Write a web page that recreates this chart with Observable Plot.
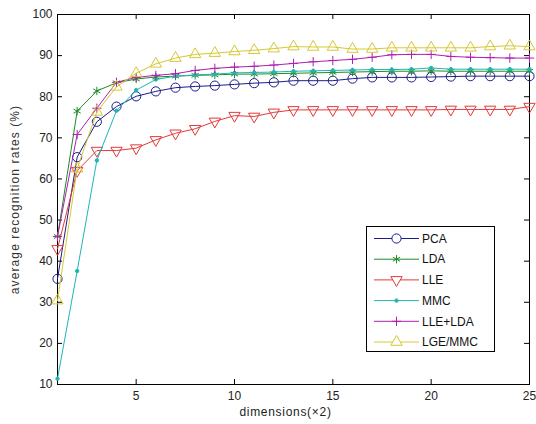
<!DOCTYPE html>
<html>
<head>
<meta charset="utf-8">
<script src="https://cdn.jsdelivr.net/npm/d3@7"></script>
<script src="https://cdn.jsdelivr.net/npm/@observablehq/plot@0.6"></script>
<style>
  html, body { margin: 0; padding: 0; background: #fff; }
  #wrap { position: relative; width: 536px; height: 424px; font-family: "Liberation Sans", Arial, sans-serif; }
  #legend { position: absolute; left: 366px; top: 226px; width: 129px; height: 126px; border: 1px solid #000; background: #fff; box-sizing: border-box; }
  #legend svg { display: block; }
</style>
</head>
<body>
<div id="wrap"></div>
<script>
// ---- data ----
const dims = [1, 2, 3, 4, 5, 6, 7, 8, 9, 10, 11, 12, 13, 14, 15, 16, 17, 18, 19, 20, 21, 22, 23, 24, 25];
const seriesNames = ["PCA", "LDA", "LLE", "MMC", "LLE+LDA", "LGE/MMC"];
const pca    = [35.7, 65.3, 73.9, 77.6, 80.1, 81.3, 82.2, 82.5, 82.7, 83.0, 83.3, 83.5, 83.9, 83.9, 83.9, 84.4, 84.7, 84.7, 84.7, 84.8, 84.9, 85.0, 85.0, 85.0, 85.0];
const lda    = [46.0, 76.5, 81.4, 83.4, 84.3, 84.8, 85.0, 85.2, 85.3, 85.5, 85.5, 85.6, 85.7, 85.8, 85.9, 86.0, 86.1, 86.2, 86.2, 86.3, 86.2, 86.2, 86.2, 86.2, 86.2];
const lle    = [43.0, 62.0, 66.9, 66.9, 67.5, 69.5, 71.1, 72.2, 74.0, 75.4, 75.2, 76.2, 76.8, 76.8, 76.8, 76.8, 76.8, 76.8, 76.8, 76.8, 76.9, 76.9, 76.9, 76.9, 77.6];
const mmc    = [11.4, 37.6, 64.5, 76.6, 81.6, 84.2, 85.0, 85.3, 85.5, 85.8, 85.9, 86.0, 86.2, 86.3, 86.4, 86.5, 86.6, 86.6, 86.7, 87.0, 86.7, 86.7, 86.7, 86.7, 86.7];
const lleLda = [46.0, 70.8, 77.2, 83.5, 84.7, 85.2, 85.6, 86.4, 86.9, 87.2, 87.4, 87.7, 88.1, 88.5, 88.8, 89.1, 89.6, 90.2, 90.3, 90.3, 89.8, 89.6, 89.5, 89.4, 89.4];
const lgeMmc = [30.4, 62.5, 76.3, 82.4, 85.7, 88.0, 89.4, 90.3, 90.6, 91.0, 91.3, 91.7, 92.2, 92.1, 92.1, 91.6, 91.6, 91.9, 91.9, 91.9, 91.9, 91.9, 92.2, 92.4, 92.2];
const xTicks = [5, 10, 15, 20, 25];
const yTicks = [10, 20, 30, 40, 50, 60, 70, 80, 90, 100];
const xLabel = "dimensions(×2)";
const yLabel = "average recognition rates (%)";

// ---- styles ----
const colors = ["#1c1c8a", "#1f8a2a", "#e2393a", "#1fb5b5", "#b020b0", "#d6c832"];
const triDown = {
  draw(ctx, size) {
    const y = Math.sqrt(size / (Math.sqrt(3) * 3));
    ctx.moveTo(0, 2 * y);
    ctx.lineTo(Math.sqrt(3) * y, -y);
    ctx.lineTo(-Math.sqrt(3) * y, -y);
    ctx.closePath();
  }
};
const markerDefs = [
  {symbol: "circle", r: 4.6, fill: "none"},
  {symbol: "asterisk", r: 3.9, fill: "none"},
  {symbol: triDown, r: 4.2, fill: "none"},
  {symbol: "circle", r: 1.7, fill: "fill"},
  {symbol: "plus", r: 3.1, fill: "none"},
  {symbol: "triangle", r: 4.2, fill: "none"}
];
const allSeries = [pca, lda, lle, mmc, lleLda, lgeMmc];

const rows = [];
allSeries.forEach((vals, si) => vals.forEach((v, i) => rows.push({series: seriesNames[si], dim: dims[i], value: v})));

const W = 536, H = 424, mL = 57, mR = 7, mT = 14, mB = 40;
const fw = W - mL - mR, fh = H - mT - mB, tl = 5;
const xDomain = [dims[0], dims[dims.length - 1]];
const yDomain = [yTicks[0], yTicks[yTicks.length - 1]];

const marks = [
  Plot.frame({stroke: "#000", strokeWidth: 1}),
  Plot.tickX(xTicks, {x: d => d, insetTop: fh - tl, stroke: "#000"}),
  Plot.tickX(xTicks, {x: d => d, insetBottom: fh - tl, stroke: "#000"}),
  Plot.tickY(yTicks, {y: d => d, insetRight: fw - tl, stroke: "#000"}),
  Plot.tickY(yTicks, {y: d => d, insetLeft: fw - tl, stroke: "#000"}),
  Plot.axisX(xTicks, {tickSize: 0, tickPadding: 7, label: null, fontSize: 12, fill: "#222"}),
  Plot.axisY(yTicks, {tickSize: 0, tickPadding: 5, label: null, fontSize: 12, fill: "#222"}),
  Plot.text([xLabel], {text: d => d, frameAnchor: "bottom", textAnchor: "middle", dy: 31, dx: -8, fontSize: 12, fill: "#222"}),
  Plot.text([yLabel], {
    text: d => d,
    x: () => xDomain[0],
    y: () => (yDomain[0] + yDomain[1]) / 2,
    textAnchor: "middle", rotate: -90, fontSize: 12, fill: "#333"
  })
];
seriesNames.forEach((name, si) => {
  const data = rows.filter(r => r.series === name);
  const m = markerDefs[si];
  marks.push(Plot.line(data, {x: "dim", y: "value", stroke: colors[si], strokeWidth: 1}));
  marks.push(Plot.dot(data, {
    x: "dim", y: "value", symbol: () => m.symbol, r: m.r,
    stroke: colors[si], strokeWidth: 1,
    fill: m.fill === "fill" ? colors[si] : "none"
  }));
});

const chart = Plot.plot({
  width: W, height: H,
  marginLeft: mL, marginRight: mR, marginTop: mT, marginBottom: mB,
  style: {background: "#fff", fontFamily: "'Liberation Sans', Arial, sans-serif"},
  x: {domain: xDomain, axis: null},
  y: {domain: yDomain, axis: null},
  symbol: {type: "identity"},
  marks
});
const wrap = document.getElementById("wrap");
wrap.appendChild(chart);
// place the rotated y title left of the tick labels, centred on the frame
chart.querySelectorAll("text").forEach(t => {
  if (t.textContent === yLabel) {
    const px = chart.scale("x").apply(xDomain[0]) - 42;
    const py = chart.scale("y").apply((yDomain[0] + yDomain[1]) / 2);
    t.setAttribute("transform", `translate(${px},${py}) rotate(-90)`);
    t.style.textAnchor = "middle";
    t.style.letterSpacing = "1.1px";
  } else if (t.textContent === xLabel) {
    t.style.letterSpacing = "0.7px";
  }
});

// ---- legend (HTML overlay) ----
const leg = document.createElement("div");
leg.id = "legend";
const ns = "http://www.w3.org/2000/svg";
const svg = document.createElementNS(ns, "svg");
svg.setAttribute("width", 127); svg.setAttribute("height", 124);
seriesNames.forEach((name, si) => {
  const cy = 11.5 + si * 20.7;
  const m = markerDefs[si];
  const line = document.createElementNS(ns, "line");
  line.setAttribute("x1", 7); line.setAttribute("x2", 52);
  line.setAttribute("y1", cy); line.setAttribute("y2", cy);
  line.setAttribute("stroke", colors[si]);
  svg.appendChild(line);
  const sym = typeof m.symbol === "string"
    ? ({circle: d3.symbolCircle, asterisk: d3.symbolAsterisk, plus: d3.symbolPlus, triangle: d3.symbolTriangle})[m.symbol]
    : m.symbol;
  const p = document.createElementNS(ns, "path");
  p.setAttribute("d", d3.symbol(sym, Math.PI * m.r * m.r)());
  p.setAttribute("transform", `translate(29.5,${cy})`);
  p.setAttribute("stroke", colors[si]);
  p.setAttribute("fill", m.fill === "fill" ? colors[si] : "#fff");
  svg.appendChild(p);
  const t = document.createElementNS(ns, "text");
  t.setAttribute("x", 55); t.setAttribute("y", cy);
  t.setAttribute("dy", "0.35em");
  t.setAttribute("font-size", 12);
  t.setAttribute("fill", "#111");
  t.textContent = name;
  svg.appendChild(t);
});
leg.appendChild(svg);
wrap.appendChild(leg);
</script>
</body>
</html>
